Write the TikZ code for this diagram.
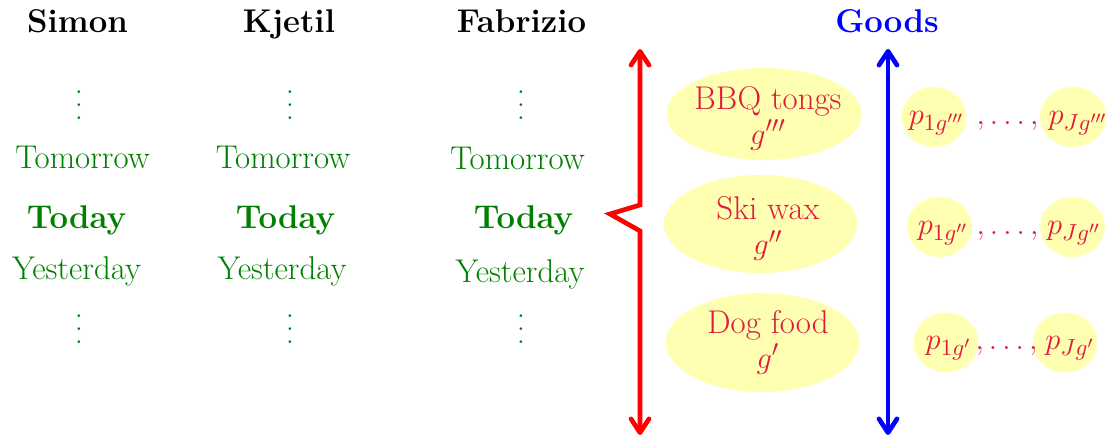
\documentclass[tikz,border=0pt]{standalone}
\usetikzlibrary{arrows.meta,shapes.geometric}
\definecolor{txtred}{RGB}{225,25,60}
\definecolor{txtgreen}{RGB}{0,128,0}
\definecolor{ellfill}{RGB}{255,255,178}
\newcommand{\myvdots}{\vbox{\baselineskip6.1pt\lineskiplimit0pt\hbox{.}\hbox{.}\hbox{.}}}
\begin{document}
\begin{tikzpicture}[x=0.4714pt,y=-0.4714pt,
  font=\fontsize{15.5}{16.5}\selectfont,
  head/.style={font=\fontsize{15.5}{16.5}\selectfont\bfseries, anchor=base, inner sep=0pt},
  day/.style={text=txtgreen, anchor=base, inner sep=0pt},
  today/.style={day, font=\fontsize{15.5}{16.5}\selectfont\bfseries},
  vd/.style={text=txtgreen, inner sep=0pt},
  goodell/.style={ellipse, fill=ellfill, inner sep=0pt},
  goodtxt/.style={text=txtred, align=center, inner sep=0pt},
  pell/.style={ellipse, fill=ellfill, inner sep=0pt, minimum width=30.4pt, minimum height=28.3pt},
  ptxt/.style={text=txtred, anchor=base, inner sep=0pt, font=\fontsize{15.5}{18}\selectfont},
  bigarrow/.style={line width=2.2pt, {Straight Barb[length=6.5pt,width=8.5pt,round]}-{Straight Barb[length=6.5pt,width=8.5pt,round]}}
]
\useasboundingbox (0,0) rectangle (1114,437);

% headers
\node[head] (simon) at (77.5,33) {Simon};
\node[head] (kjetil) at (289,33) {Kjetil};
\node[head] (fabrizio) at (521.5,33) {Fabrizio};
\node[head, text=blue] (goods) at (887,33) {Goods};

% column 1
\node[vd] (v1a) at (79,105) {\myvdots};
\node[day] (tom1) at (82.5,169) {Tomorrow};
\node[today] (tod1) at (76.5,229) {Today};
\node[day] (yes1) at (76.5,280) {Yesterday};
\node[vd] (v1b) at (79,329) {\myvdots};

% column 2
\node[vd] (v2a) at (290,105) {\myvdots};
\node[day] (tom2) at (283,169) {Tomorrow};
\node[today] (tod2) at (285.5,229) {Today};
\node[day] (yes2) at (282,280) {Yesterday};
\node[vd] (v2b) at (290,329) {\myvdots};

% column 3
\node[vd] (v3a) at (521,105) {\myvdots};
\node[day] (tom3) at (517.5,170) {Tomorrow};
\node[today] (tod3) at (523.5,229) {Today};
\node[day] (yes3) at (520,283) {Yesterday};
\node[vd] (v3b) at (521,329) {\myvdots};

% red arrow with notch
\coordinate (rtop) at (640,49);
\coordinate (rk1) at (640,205);
\coordinate (rk2) at (610,214);
\coordinate (rk3) at (640,231);
\coordinate (rbot) at (640,435);
\draw[bigarrow, red, line join=miter] (rtop) -- (rk1) -- (rk2) -- (rk3) -- (rbot);

% blue arrow
\coordinate (btop) at (888,49);
\coordinate (bbot) at (888,435);
\draw[bigarrow, blue] (btop) -- (bbot);

% goods ellipses
\node[goodell, minimum width=92pt, minimum height=43.4pt] (e1) at (764,114) {};
\node[goodtxt] (t1) at (768,118) {BBQ tongs\\$g'''$};
\node[goodell, minimum width=91pt, minimum height=46.2pt] (e2) at (760.5,224) {};
\node[goodtxt] (t2) at (768,228.5) {Ski wax\\$g''$};
\node[goodell, minimum width=91pt, minimum height=46.7pt] (e3) at (762.5,342.5) {};
\node[goodtxt] (t3) at (768,342) {Dog food\\$g'$};

% price circles
\node[pell] (c1a) at (934,117) {};
\node[pell, minimum width=31.1pt] (cJa) at (1073,117) {};
\node[pell] (c1b) at (939.5,227) {};
\node[pell] (cJb) at (1072.5,227) {};
\node[pell] (c1c) at (946,342.5) {};
\node[pell] (cJc) at (1065,342.5) {};

% price texts
\node[ptxt] (p1a) at (936.5,125) {$p_{1g'''}$};
\node[ptxt] (d1) at (1007.5,125) {$,\ldots,$};
\node[ptxt] (pJa) at (1078,125) {$p_{Jg'''}$};

\node[ptxt] (p1b) at (943,235) {$p_{1g''}$};
\node[ptxt] (d2) at (1007.5,235) {$,\ldots,$};
\node[ptxt] (pJb) at (1074,235) {$p_{Jg''}$};

\node[ptxt] (p1c) at (948.5,350) {$p_{1g'}$};
\node[ptxt] (d3) at (1006.5,350) {$,\ldots,$};
\node[ptxt] (pJc) at (1070,350) {$p_{Jg'}$};
\end{tikzpicture}
\end{document}
